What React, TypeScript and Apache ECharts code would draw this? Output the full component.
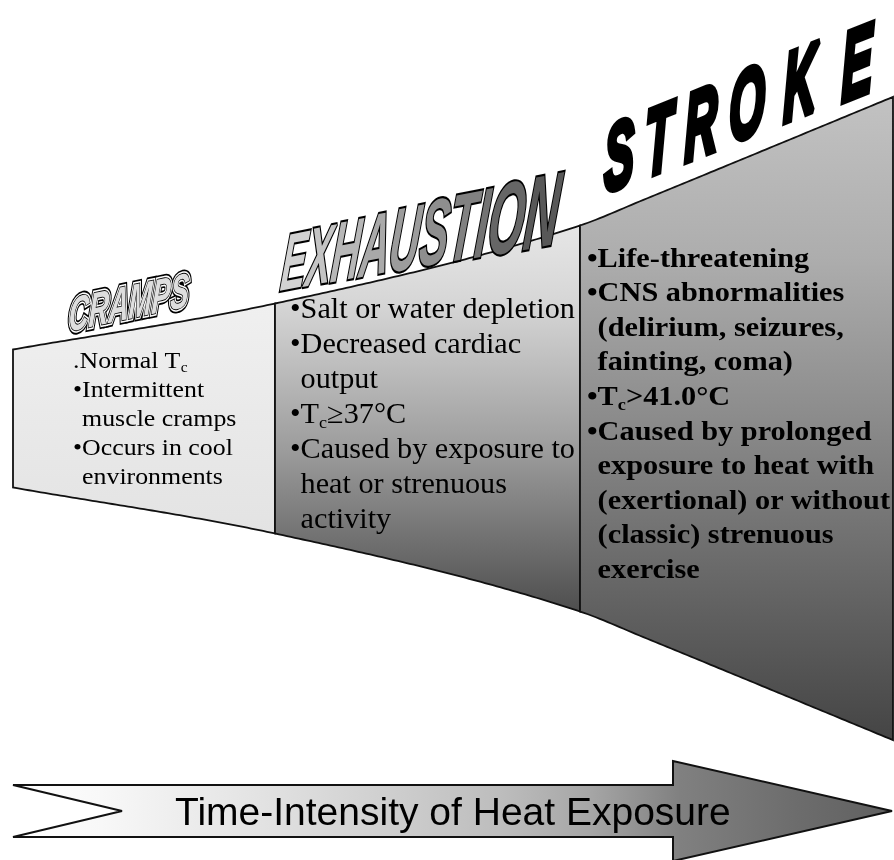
import React, { useEffect, useRef } from 'react';
import * as echarts from 'echarts';

const W = 894;
const H = 860;

// ---------- content ----------
const crampsTitle = 'CRAMPS';
const exhaustionTitle = 'EXHAUSTION';
const strokeTitle = 'STROKE';
const crampsLines = ['.Normal T_{c}', '•Intermittent', 'muscle cramps', '•Occurs in cool', 'environments'];
const exhaustionLines = [
  '•Salt or water depletion',
  '•Decreased cardiac',
  'output',
  '•T_{c}≥37°C',
  '•Caused by exposure to',
  'heat or strenuous',
  'activity',
];
const strokeLines = [
  '•Life-threatening',
  '•CNS abnormalities',
  '(delirium, seizures,',
  'fainting, coma)',
  '•T_{c}>41.0°C',
  '•Caused by prolonged',
  'exposure to heat with',
  '(exertional) or without',
  '(classic) strenuous',
  'exercise',
];
const arrowLabel = 'Time-Intensity of Heat Exposure';

// ---------- layout ----------
const axisY = 418.5;
const profX = [13, 275, 580, 643, 894];
const profHalf = [69, 115, 193, 218.5, 322];
const panelBounds = [
  [13, 275],
  [275, 580],
  [580, 893],
];

function monotone(xs: number[], ys: number[]) {
  const n = xs.length;
  const d: number[] = [];
  const m: number[] = [];
  for (let i = 0; i < n - 1; i++) d[i] = (ys[i + 1] - ys[i]) / (xs[i + 1] - xs[i]);
  m[0] = d[0];
  m[n - 1] = d[n - 2];
  for (let i = 1; i < n - 1; i++) m[i] = d[i - 1] * d[i] <= 0 ? 0 : (d[i - 1] + d[i]) / 2;
  return (x: number) => {
    let i = 0;
    while (i < n - 2 && x > xs[i + 1]) i++;
    const h = xs[i + 1] - xs[i];
    const t = (x - xs[i]) / h;
    const t2 = t * t;
    const t3 = t2 * t;
    return (
      (2 * t3 - 3 * t2 + 1) * ys[i] +
      (t3 - 2 * t2 + t) * h * m[i] +
      (-2 * t3 + 3 * t2) * ys[i + 1] +
      (t3 - t2) * h * m[i + 1]
    );
  };
}

function decompose(a: number, b: number, c: number, d: number) {
  const E = (a + d) / 2;
  const F = (a - d) / 2;
  const G = (c + b) / 2;
  const Hh = (c - b) / 2;
  const Q = Math.hypot(E, Hh);
  const R = Math.hypot(F, G);
  const a1 = Math.atan2(G, F);
  const a2 = Math.atan2(Hh, E);
  return { sx: Q + R, sy: Q - R, theta: (a2 - a1) / 2, phi: (a2 + a1) / 2 };
}

function lerpColor(c1: number, c2: number, t: number) {
  const v = Math.round(c1 + (c2 - c1) * t);
  const hx = v.toString(16).padStart(2, '0');
  return '#' + hx + hx + hx;
}

export default function App() {
  const ref = useRef<HTMLDivElement>(null);
  useEffect(() => {
    if (!ref.current) return;
    const chart = echarts.init(ref.current, null, { renderer: 'svg' });
    const cv = document.createElement('canvas').getContext('2d')!;
    const measure = (t: string, font: string) => {
      cv.font = font;
      return cv.measureText(t).width;
    };
    const half = monotone(profX, profHalf);
    const els: any[] = [];

    // ---- panels ----
    const fills = [
      { type: 'linear', global: true, x: 0, y: 300, x2: 0, y2: 535, colorStops: [
        { offset: 0, color: '#f0f0f0' }, { offset: 1, color: '#e3e3e3' } ] },
      { type: 'linear', global: true, x: 0, y: 226, x2: 0, y2: 612, colorStops: [
        { offset: 0, color: '#e6e6e6' }, { offset: 0.2, color: '#d6d6d6' },
        { offset: 0.58, color: '#9c9c9c' }, { offset: 1, color: '#4e4e4e' } ] },
      { type: 'linear', global: true, x: 0, y: 97, x2: 0, y2: 742, colorStops: [
        { offset: 0, color: '#c2c2c2' }, { offset: 0.25, color: '#adadad' },
        { offset: 0.5, color: '#8b8b8b' }, { offset: 0.75, color: '#676767' },
        { offset: 1, color: '#444444' } ] },
    ];
    panelBounds.forEach(([x0, x1], i) => {
      const top: number[][] = [];
      const bot: number[][] = [];
      const steps = Math.ceil((x1 - x0) / 4);
      for (let s = 0; s <= steps; s++) {
        const x = x0 + ((x1 - x0) * s) / steps;
        const hh = half(x);
        top.push([x, axisY - hh]);
        bot.push([x, axisY + hh]);
      }
      els.push({
        type: 'polygon',
        silent: true,
        shape: { points: top.concat(bot.reverse()) },
        style: { fill: fills[i], stroke: '#111', lineWidth: 1.8, lineJoin: 'miter' },
      });
    });

    // ---- bullet text ----
    const lineEls = (
      lines: string[], x0: number, y0: number, step: number, size: number, weight: string,
      refLine: number, refWidth: number,
    ) => {
      const baseFont = `normal ${weight} ${size}px 'Liberation Serif'`;
      const sc = refWidth / measure(lines[refLine].replace(/_\{([^}]*)\}/g, '$1'), baseFont);
      const indent = measure('•', baseFont) * sc;
      lines.forEach((ln, li) => {
        const parts: { t: string; sub: boolean }[] = [];
        const re = /_\{([^}]*)\}/g;
        let last = 0;
        let mm: RegExpExecArray | null;
        while ((mm = re.exec(ln))) {
          if (mm.index > last) parts.push({ t: ln.slice(last, mm.index), sub: false });
          parts.push({ t: mm[1], sub: true });
          last = mm.index + mm[0].length;
        }
        if (last < ln.length) parts.push({ t: ln.slice(last), sub: false });
        const bullet = ln[0] === '•' || ln[0] === '.';
        let cx = bullet ? x0 : x0 + indent;
        const y = y0 + li * step;
        parts.forEach((p) => {
          const fs = p.sub ? size * 0.6 : size;
          const f = `normal ${weight} ${fs}px 'Liberation Serif'`;
          els.push({
            type: 'text',
            silent: true,
            x: cx,
            y: y + (p.sub ? size * 0.3 : 0),
            scaleX: sc,
            style: {
              text: p.t, font: f, fill: '#000',
              textAlign: 'left', textVerticalAlign: 'middle', align: 'left', verticalAlign: 'middle',
            },
          });
          cx += measure(p.t, f) * sc;
        });
      });
    };
    lineEls(crampsLines, 73, 360, 29, 24, 'normal', 3, 160);
    lineEls(exhaustionLines, 290, 308, 35, 29, 'normal', 0, 285);
    lineEls(strokeLines, 587, 257, 34.6, 28, 'bold', 7, 293);

    // ---- sheared titles ----
    const sheared = (cx: number, cy: number, text: string, font: string, phiDeg: number, k: number, h: number, slant: number, style: any, z = 5) => {
      const p = (phiDeg * Math.PI) / 180;
      const s = decompose(k * Math.cos(p), -slant * h, -k * Math.sin(p), h);
      return {
        type: 'group', x: cx, y: cy, rotation: -s.phi, scaleX: s.sx, scaleY: s.sy, z,
        children: [{
          type: 'text', silent: true, rotation: -s.theta, z,
          style: Object.assign({
            text, font, textAlign: 'center', textVerticalAlign: 'middle', align: 'center', verticalAlign: 'middle',
          }, style),
        }],
      };
    };

    // CRAMPS (outlined)
    {
      const f = `italic bold 40px 'Liberation Sans'`;
      const w = measure(crampsTitle, f);
      const k = 120 / (w * Math.cos((12 * Math.PI) / 180));
      const args: [number, number, string, string, number, number, number, number] = [129, 302, crampsTitle, f, 12, k, 1.22, 0.06];
      els.push(sheared(...args, { fill: '#000', stroke: '#000', lineWidth: 7 }));
      els.push(sheared(...args, { fill: '#fff', stroke: '#fff', lineWidth: 4 }));
      els.push(sheared(...args, { fill: '#dedede', stroke: '#000', lineWidth: 1.5 }));
    }

    // EXHAUSTION (letters growing, gray gradient)
    {
      const letters = exhaustionTitle.split('');
      const n = letters.length;
      const phi = 11;
      const cp = Math.cos((phi * Math.PI) / 180);
      const sizes = letters.map((_, i) => 62 + (18 * i) / (n - 1));
      const widths = letters.map((ch, i) => measure(ch, `italic bold ${sizes[i]}px 'Liberation Sans'`));
      const total = widths.reduce((a, b) => a + b, 0);
      const x0 = 282;
      const x1 = 560;
      const k = (x1 - x0) / (total * cp);
      let acc = 0;
      letters.forEach((ch, i) => {
        const cx = x0 + (acc + widths[i] / 2) * k * cp;
        acc += widths[i];
        const cy = 259 - 0.2 * (cx - 302);
        const fill = lerpColor(0xd2, 0x58, i / (n - 1));
        els.push(sheared(cx, cy, ch, `italic bold ${sizes[i]}px 'Liberation Sans'`, phi, k, 1.3, 0.1,
          { fill, stroke: '#000', lineWidth: 3.4 }));
      });
    }

    // STROKE (black, spaced)
    {
      const centers = [[619, 155], [659, 139], [701, 123], [747, 103], [800, 82], [857, 62]];
      const sizes = [96, 97, 98, 99, 100, 100];
      strokeTitle.split('').forEach((ch, i) => {
        els.push(sheared(centers[i][0], centers[i][1], ch, `italic bold ${sizes[i]}px 'Liberation Sans'`, 22, 0.5, 0.97, 0.0,
          { fill: '#000', stroke: '#000', lineWidth: 7 }));
      });
    }

    // ---- arrow ----
    els.push({
      type: 'polygon',
      silent: true,
      shape: { points: [[13, 785], [673, 785], [673, 761], [892, 811], [673, 861], [673, 837], [13, 837], [122, 811]] },
      style: {
        fill: { type: 'linear', global: true, x: 13, y: 0, x2: 892, y2: 0, colorStops: [
          { offset: 0, color: '#ffffff' }, { offset: 0.1, color: '#f8f8f8' },
          { offset: 0.27, color: '#e4e4e4' }, { offset: 0.44, color: '#cdcdcd' },
          { offset: 0.554, color: '#bdbdbd' }, { offset: 0.656, color: '#a6a6a6' },
          { offset: 0.759, color: '#808080' }, { offset: 0.895, color: '#6c6c6c' },
          { offset: 1, color: '#606060' } ] },
        stroke: '#111', lineWidth: 2, lineJoin: 'miter',
      },
    });
    {
      const f = `normal normal 38px 'Liberation Sans'`;
      const w = measure(arrowLabel, f);
      els.push({
        type: 'text', silent: true, x: 175, y: 812, scaleX: 556 / w, z: 6,
        style: { text: arrowLabel, font: f, fill: '#000', textAlign: 'left', textVerticalAlign: 'middle', align: 'left', verticalAlign: 'middle' },
      });
    }

    chart.setOption({ animation: false, graphic: { elements: els } });
    return () => chart.dispose();
  }, []);
  return (
    <div
      ref={ref}
      style={{ position: 'absolute', left: 0, top: 0, width: W, height: H, background: '#fff', filter: 'grayscale(1)' }}
    />
  );
}
